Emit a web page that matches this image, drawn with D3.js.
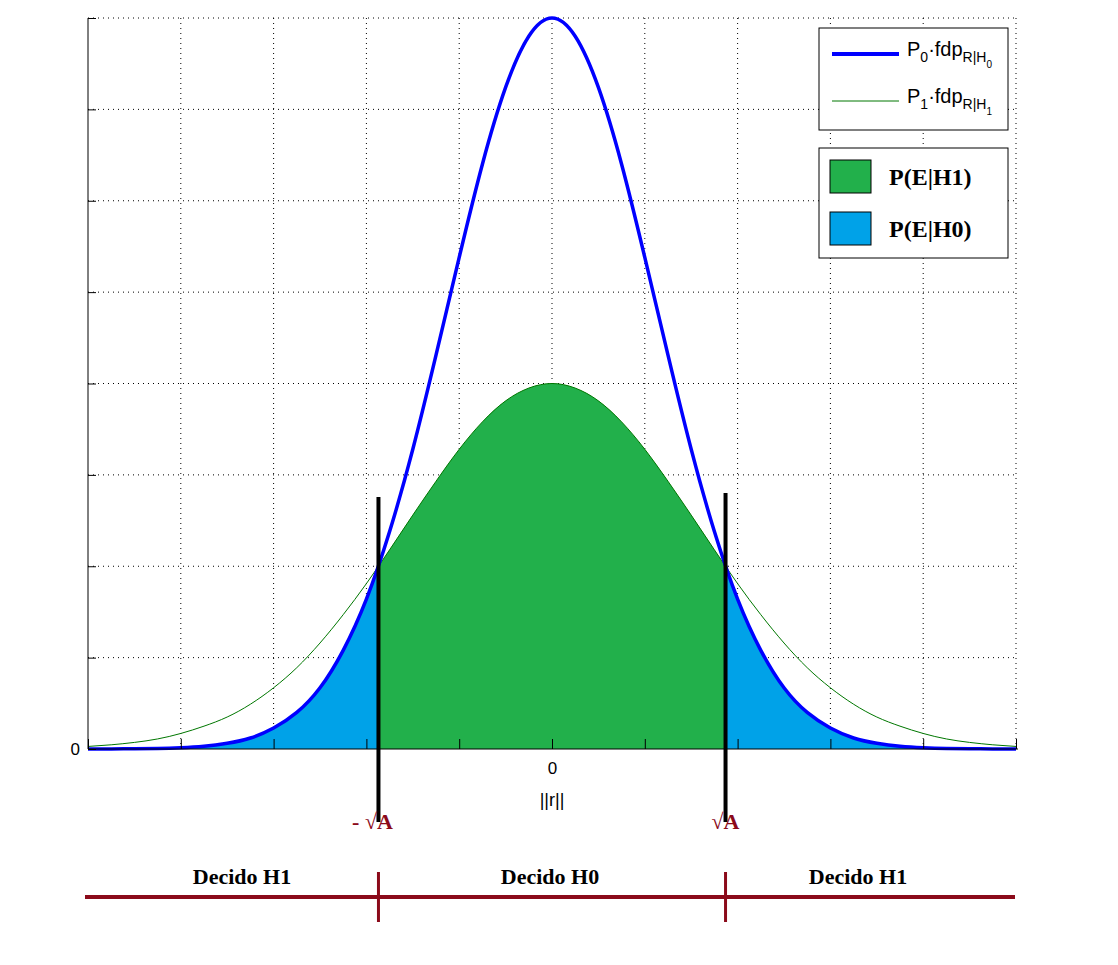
<!DOCTYPE html>
<html><head><meta charset="utf-8">
<script src="https://cdn.jsdelivr.net/npm/d3@7"></script>
<style>body{margin:0;background:#fff}</style>
</head><body><div id="chart"></div>
<script>
const xs = d3.range(-20, 21).map(i => i * 0.25);
const blueHalf = [8, 7.80, 7.24, 6.40, 5.38, 4.31, 3.28, 2.38, 1.64, 1.08, 0.67, 0.40, 0.23, 0.12, 0.062, 0.030, 0.014, 0.006, 0.003, 0.001, 0];
const greenHalf = [4, 3.95, 3.81, 3.58, 3.28, 2.93, 2.56, 2.18, 1.81, 1.47, 1.16, 0.89, 0.67, 0.49, 0.35, 0.25, 0.17, 0.11, 0.072, 0.046, 0.028];
const blueVals = blueHalf.slice(1).reverse().concat(blueHalf);
const greenVals = greenHalf.slice(1).reverse().concat(greenHalf);
const threshold = 1.87;
const xTicks = d3.range(-5, 6);
const yTicks = d3.range(0, 9);
const regions = ["Decido H1", "Decido H0", "Decido H1"];

const W = 1118, H = 965;
const svg = d3.select("#chart").append("svg").attr("width", W).attr("height", H);
const x = d3.scaleLinear().domain([-5, 5]).range([88, 1016]);
const y = d3.scaleLinear().domain([0, 8]).range([749, 18]);

// grid
svg.append("g").selectAll("line").data(xTicks.slice(1)).enter().append("line")
    .attr("x1", d => x(d)).attr("x2", d => x(d)).attr("y1", 18).attr("y2", 749)
    .attr("stroke", "#000").attr("stroke-width", 1).attr("stroke-dasharray", "1,4");
svg.append("g").selectAll("line").data(yTicks.slice(1)).enter().append("line")
    .attr("x1", 88).attr("x2", 1018).attr("y1", d => y(d)).attr("y2", d => y(d))
    .attr("stroke", "#000").attr("stroke-width", 1).attr("stroke-dasharray", "1,4");

const pts = xs.map((v, i) => ({ x: v, b: blueVals[i], g: greenVals[i] }));
const defs = svg.append("defs");
defs.append("clipPath").attr("id", "mid").append("rect")
    .attr("x", x(-threshold)).attr("width", x(threshold) - x(-threshold)).attr("y", 0).attr("height", H);
const outer = defs.append("clipPath").attr("id", "out");
outer.append("rect").attr("x", 0).attr("width", x(-threshold)).attr("y", 0).attr("height", H);
outer.append("rect").attr("x", x(threshold)).attr("width", W).attr("y", 0).attr("height", H);

const area = key => d3.area().curve(d3.curveNatural).x(d => x(d.x)).y0(y(0)).y1(d => y(d[key]));
const line = key => d3.line().curve(d3.curveNatural).x(d => x(d.x)).y(d => y(d[key]));

svg.append("path").datum(pts).attr("d", area("g")).attr("fill", "#22b04b").attr("clip-path", "url(#mid)");
svg.append("path").datum(pts).attr("d", area("b")).attr("fill", "#00a2e8").attr("clip-path", "url(#out)");
svg.append("path").datum(pts).attr("d", line("g")).attr("fill", "none").attr("stroke", "#007700").attr("stroke-width", 1);
svg.append("path").datum(pts).attr("d", line("b")).attr("fill", "none").attr("stroke", "#0000ff").attr("stroke-width", 3.5);

// axes
svg.append("g").attr("transform", "translate(0,749)")
    .call(d3.axisBottom(x).tickValues(xTicks).tickSize(-10).tickFormat(d => d === 0 ? "0" : ""))
    .call(g => g.select(".domain").attr("d", "M88,0H1018"))
    .call(g => g.selectAll("text").attr("dy", "1.3em").style("font", "17px Arial, 'Liberation Sans', sans-serif"));
svg.append("g").attr("transform", "translate(88,0)")
    .call(d3.axisLeft(y).tickValues(yTicks).tickSize(-8).tickFormat(d => d === 0 ? "0" : ""))
    .call(g => g.select(".domain").attr("d", "M0,18V749"))
    .call(g => g.selectAll("text").attr("x", -8).style("font", "17px Arial, 'Liberation Sans', sans-serif"));
svg.append("text").attr("x", x(0)).attr("y", 806).attr("text-anchor", "middle")
    .style("font", "18px Arial, 'Liberation Sans', sans-serif").text("||r||");

// threshold lines and labels
const dark = "#8b0a1a";
[-threshold, threshold].forEach((t, i) => {
    svg.append("line").attr("x1", x(t)).attr("x2", x(t)).attr("y1", i ? 493 : 497).attr("y2", 822)
        .attr("stroke", "#000").attr("stroke-width", 4);
    svg.append("text").attr("x", x(t) + (i ? 0 : -6)).attr("y", 829).attr("text-anchor", "middle")
        .attr("fill", dark).style("font", "bold 22px 'Liberation Serif', serif")
        .text(i ? "√A" : "- √A");
});

// decision bar
svg.append("line").attr("x1", 85).attr("x2", 1015).attr("y1", 897).attr("y2", 897).attr("stroke", dark).attr("stroke-width", 4);
[-threshold, threshold].forEach(t => svg.append("line").attr("x1", x(t)).attr("x2", x(t))
    .attr("y1", 872).attr("y2", 922).attr("stroke", dark).attr("stroke-width", 3));
const regionX = [242, 550, 858];
svg.selectAll(".region").data(regions).enter().append("text").attr("class", "region")
    .attr("x", (d, i) => regionX[i]).attr("y", 884).attr("text-anchor", "middle")
    .style("font", "bold 22px 'Liberation Serif', serif").text(d => d);

// legends
const sans = "Arial, 'Liberation Sans', sans-serif";
const lg1 = svg.append("g").attr("transform", "translate(819,28)");
lg1.append("rect").attr("width", 189).attr("height", 102).attr("fill", "#fff").attr("stroke", "#000");
lg1.append("line").attr("x1", 13).attr("x2", 80).attr("y1", 26).attr("y2", 26).attr("stroke", "#0000ff").attr("stroke-width", 4);
lg1.append("line").attr("x1", 13).attr("x2", 80).attr("y1", 73).attr("y2", 73).attr("stroke", "#007700").attr("stroke-width", 1);
[["0", 28], ["1", 75]].forEach(([k, yy]) => {
    const t = lg1.append("text").attr("x", 88).attr("y", yy).style("font", "20px " + sans);
    t.append("tspan").text("P");
    t.append("tspan").attr("dy", 6).style("font-size", "14px").text(k);
    t.append("tspan").attr("dy", -6).text("·fdp");
    t.append("tspan").attr("dy", 6).style("font-size", "14px").text("R|H");
    t.append("tspan").attr("dy", 6).style("font-size", "10px").text(k);
});
const lg2 = svg.append("g").attr("transform", "translate(819,148)");
lg2.append("rect").attr("width", 189).attr("height", 110).attr("fill", "#fff").attr("stroke", "#000");
[["#22b04b", "P(E|H1)", 12], ["#00a2e8", "P(E|H0)", 64]].forEach(([c, s, yy]) => {
    lg2.append("rect").attr("x", 11).attr("y", yy).attr("width", 41).attr("height", 33).attr("fill", c).attr("stroke", "#000");
    lg2.append("text").attr("x", 70).attr("y", yy + 25).style("font", "bold 24px 'Liberation Serif', serif").text(s);
});
</script></body></html>
